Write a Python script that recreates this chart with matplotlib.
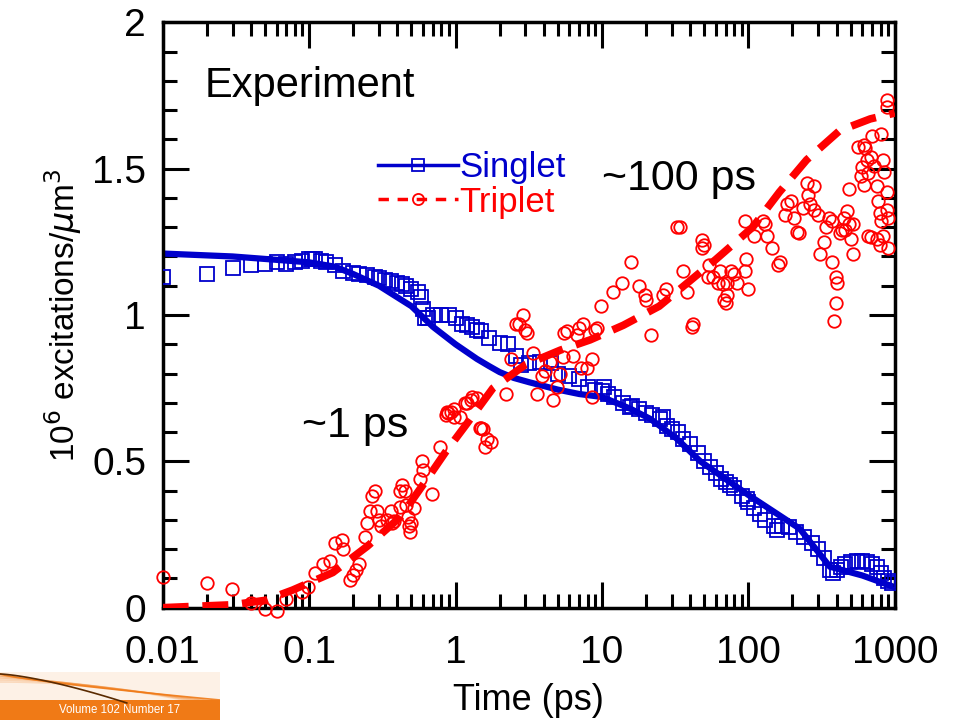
import numpy as np
import matplotlib.pyplot as plt
from matplotlib.lines import Line2D
from matplotlib.patches import Rectangle
from matplotlib.ticker import FixedLocator, NullFormatter, MultipleLocator

plt.rcParams['font.family'] = ['Liberation Sans', 'DejaVu Sans']

# ----- fitted curves -----
singlet_fit_t = [0.01, 0.03, 0.1, 0.15, 0.2, 0.3, 0.5, 0.7, 1.0, 1.4, 1.7, 2.0, 2.5, 3.2, 5.0, 7.0, 10, 15.6, 21.4, 32, 47, 100, 224, 360, 600, 1000]
singlet_fit_n = [1.21, 1.20, 1.18, 1.165, 1.14, 1.10, 1.03, 0.96, 0.90, 0.85, 0.825, 0.805, 0.785, 0.77, 0.745, 0.73, 0.72, 0.68, 0.645, 0.58, 0.50, 0.385, 0.27, 0.14, 0.11, 0.07]

triplet_fit_t = [0.01, 0.03, 0.05, 0.077, 0.145, 0.25, 0.42, 0.64, 0.85, 1.2, 1.8, 3.0, 5.2, 8.3, 14, 24.6, 60, 107, 163, 250, 420, 680, 1000]
triplet_fit_n = [0.0, 0.01, 0.025, 0.06, 0.12, 0.21, 0.31, 0.44, 0.53, 0.63, 0.75, 0.83, 0.88, 0.915, 0.965, 1.03, 1.19, 1.30, 1.42, 1.53, 1.63, 1.67, 1.69]

# ----- measured points -----
singlet_t = [0.01, 0.02, 0.03, 0.04, 0.05, 0.06, 0.07, 0.08, 0.09, 0.1, 0.105, 0.11, 0.12, 0.13,
             0.15, 0.17, 0.2, 0.22, 0.25, 0.28, 0.3, 0.33, 0.36, 0.4, 0.43, 0.46, 0.5, 0.55, 0.58,
             0.6, 0.62, 0.65, 0.7, 0.8, 0.9, 1.0, 1.1, 1.2, 1.3, 1.4, 1.5, 1.7, 2.0, 2.3, 2.6, 2.8,
             3.2, 3.8, 4.5, 5.0, 6.0, 7.0, 8.0, 9.0, 10, 10.3, 11, 12, 14, 15.6, 16, 18, 20, 22, 25,
             26, 28, 30, 33, 36, 40, 45, 50, 55, 60, 65, 70, 75, 80, 90, 98, 100, 110, 120, 130,
             150, 157, 170, 190, 210, 240, 270, 300, 330, 360, 380, 400, 430, 460, 500, 550, 600,
             650, 700, 750, 800, 850, 900, 950]
singlet_n = [1.13, 1.14, 1.16, 1.17, 1.175, 1.18, 1.175, 1.18, 1.185, 1.19, 1.19, 1.19, 1.185, 1.18,
             1.17, 1.15, 1.145, 1.14, 1.135, 1.13, 1.125, 1.12, 1.115, 1.11, 1.105, 1.10, 1.09, 1.08, 1.06,
             1.02, 0.99, 0.99, 1.0, 1.0, 1.0, 0.99, 0.97, 0.965, 0.96, 0.95, 0.945, 0.92, 0.905, 0.90, 0.86, 0.83,
             0.835, 0.84, 0.835, 0.80, 0.79, 0.78, 0.755, 0.745, 0.74, 0.755, 0.73, 0.72, 0.70, 0.685, 0.69, 0.68, 0.665, 0.66, 0.645,
             0.65, 0.62, 0.61, 0.60, 0.575, 0.56, 0.53, 0.50, 0.48, 0.46, 0.44, 0.43, 0.42, 0.41, 0.38, 0.37, 0.36, 0.34, 0.32, 0.30,
             0.28, 0.265, 0.28, 0.275, 0.26, 0.24, 0.22, 0.20, 0.17, 0.13, 0.12, 0.13, 0.14, 0.15, 0.155, 0.16, 0.16,
             0.155, 0.15, 0.14, 0.12, 0.10, 0.09, 0.085]

triplet_t = [0.01, 0.02, 0.0296, 0.04, 0.0497, 0.06, 0.07, 0.09, 0.098, 0.109, 0.124, 0.138, 0.15, 0.167,
             0.17, 0.19, 0.2, 0.21, 0.22, 0.24, 0.25, 0.26, 0.27, 0.28, 0.29, 0.30, 0.31, 0.34, 0.36,
             0.37, 0.38, 0.415, 0.42, 0.43, 0.45, 0.46, 0.47, 0.48, 0.49, 0.5, 0.52, 0.57, 0.59, 0.6,
             0.69, 0.78, 0.86, 0.87, 0.89, 0.93, 0.97, 0.98, 1.07, 1.16, 1.2, 1.27, 1.3, 1.4, 1.46,
             1.5, 1.54, 1.6, 1.65, 1.75, 2.2, 2.4, 2.6, 2.7, 2.9, 3.0, 3.1, 3.4, 3.6, 3.9, 4.1, 4.4,
             4.6, 4.9, 5.2, 5.4, 5.5, 5.8, 6.3, 6.8, 7.0, 7.2, 7.4, 7.9, 8.5, 8.6, 8.9, 9.2, 9.9,
             11.9, 13.7, 15.8, 17.9, 19.8, 20, 21.6, 26, 27.5, 32.7, 34, 36, 38, 41, 42, 48, 48.6,
             50, 53, 54, 57, 62, 64, 67, 68, 70, 72, 72, 76, 80, 84, 95, 95, 97, 100, 110, 125,
             130, 133, 146, 160, 165, 178, 185, 195, 205, 215, 220, 235, 250, 255, 265, 280, 280,
             300, 310, 330, 340, 355, 375, 375, 385, 395, 395, 405, 420, 435, 450, 460, 475, 485,
             485, 505, 520, 520, 560, 590, 600, 615, 615, 630, 645, 660, 660, 690, 690, 700, 720,
             750, 750, 770, 790, 790, 810, 810, 830, 830, 850, 880, 880, 880, 890, 900, 900]
triplet_n = [0.105, 0.085, 0.065, 0.015, -0.005, -0.01, 0.03, 0.055, 0.07, 0.12, 0.15, 0.16, 0.22, 0.23,
             0.20, 0.095, 0.11, 0.13, 0.15, 0.24, 0.29, 0.33, 0.38, 0.40, 0.33, 0.30, 0.28, 0.30, 0.33,
             0.29, 0.295, 0.345, 0.40, 0.42, 0.40, 0.35, 0.31, 0.28, 0.26, 0.29, 0.34, 0.44, 0.50, 0.47,
             0.39, 0.55, 0.66, 0.67, 0.665, 0.67, 0.65, 0.68, 0.65, 0.70, 0.70, 0.71, 0.72, 0.715, 0.615,
             0.615, 0.61, 0.55, 0.575, 0.565, 0.73, 0.85, 0.97, 0.97, 1.0, 0.95, 0.94, 0.87, 0.73, 0.79, 0.81, 0.84,
             0.71, 0.755, 0.80, 0.855, 0.94, 0.945, 0.86, 0.93, 0.955, 0.82, 0.97, 0.82, 0.72, 0.85, 0.95, 0.955, 1.03,
             1.08, 1.11, 1.18, 1.10, 1.07, 1.05, 0.93, 1.07, 1.09, 1.30, 1.30, 1.15, 1.08, 0.96, 0.97, 1.23, 1.255,
             1.24, 1.13, 1.17, 1.13, 1.11, 1.15, 1.105, 1.05, 1.04, 1.11, 1.07, 1.15, 1.14, 1.11, 1.15, 1.32, 1.19, 1.09, 1.27, 1.32,
             1.31, 1.27, 1.23, 1.17, 1.18, 1.34, 1.38, 1.39, 1.33, 1.285, 1.28, 1.365, 1.45, 1.41, 1.38, 1.44, 1.36,
             1.34, 1.21, 1.25, 1.30, 1.33, 1.18, 1.32, 0.98, 1.13, 1.04, 1.11, 1.28, 1.29, 1.33, 1.29, 1.355, 1.43,
             1.31, 1.26, 1.31, 1.21, 1.575, 1.475, 1.505, 1.58, 1.445, 1.57, 1.53, 1.485, 1.27, 1.54, 1.265, 1.61, 1.51,
             1.44, 1.26, 1.39, 1.35, 1.24, 1.32, 1.62, 1.27, 1.53, 1.49, 1.735, 1.71, 1.42, 1.36, 1.33, 1.23]

blue = '#0000CC'
red = '#FF0000'
orange = '#F07A16'

fig = plt.figure(figsize=(9.57, 7.2), dpi=100)
ax = fig.add_axes([0.170, 0.156, 0.765, 0.813])

ax.plot(singlet_t, singlet_n, 's', mfc='none', mec=blue, ms=10, mew=1.3, zorder=3)
ax.plot(singlet_fit_t, singlet_fit_n, '-', color=blue, lw=4.5, zorder=2)
ax.plot(triplet_t, triplet_n, 'o', mfc='none', mec=red, ms=9, mew=1.3, zorder=3, clip_on=False)
ax.plot(triplet_fit_t, triplet_fit_n, '-', color=red, lw=5.5, dashes=(3.4, 1.8), zorder=4)

ax.set_xscale('log')
ax.set_xlim(0.01, 1000)
ax.set_ylim(0, 2)
ax.set_xticks([0.01, 0.1, 1, 10, 100, 1000])
ax.set_xticklabels(['0.01', '0.1', '1', '10', '100', '1000'])
minors = [m * 10.0 ** e for e in range(-2, 3) for m in range(2, 10)]
ax.xaxis.set_minor_locator(FixedLocator(minors))
ax.xaxis.set_minor_formatter(NullFormatter())
ax.set_yticks([0, 0.5, 1, 1.5, 2])
ax.set_yticklabels(['0', '0.5', '1', '1.5', '2'])
ax.yaxis.set_minor_locator(MultipleLocator(0.1))

ax.tick_params(which='both', direction='in', top=True, right=True, width=2.2, labelsize=28)
ax.tick_params(axis='x', pad=20)
ax.tick_params(axis='y', pad=12)
ax.tick_params(which='major', length=19)
ax.tick_params(which='minor', length=10)
for s in ax.spines.values():
    s.set_linewidth(2.5)

ax.set_xlabel('Time (ps)', fontsize=26, labelpad=8)
ax.set_ylabel(r'10$^6$ excitations/$\mu$m$^3$', fontsize=24, labelpad=6)

ax.text(0.057, 0.872, 'Experiment', transform=ax.transAxes, fontsize=30)
ax.text(0.60, 0.713, '~100 ps', transform=ax.transAxes, fontsize=31)
ax.text(0.19, 0.292, '~1 ps', transform=ax.transAxes, fontsize=31)

handles = [Line2D([], [], color=blue, lw=2.5, marker='s', mfc='none', mec=blue, ms=8, mew=1.3),
           Line2D([], [], color=red, lw=2.5, dashes=(3, 2.5), marker='o', mfc='none', mec=red, ms=8, mew=1.3)]
leg = ax.legend(handles, ['Singlet', 'Triplet'], loc='upper left', bbox_to_anchor=(0.27, 0.81),
                frameon=False, fontsize=25, handlelength=2.3, handletextpad=0.05,
                labelspacing=0.05, borderpad=0)
leg.get_texts()[0].set_color(blue)
leg.get_texts()[1].set_color(red)

# journal logo strip, bottom left
logo = fig.add_axes([0, 0, 220 / 957, 48 / 720])
logo.set_xlim(0, 220)
logo.set_ylim(0, 48)
logo.axis('off')
logo.add_patch(Rectangle((0, 0), 220, 20, color=orange, lw=0))
logo.add_patch(Rectangle((0, 20), 220, 28, color='#FDF1E6', lw=0))
sx = np.linspace(0, 220, 60)
for k, a in enumerate([0.9, 0.5, 0.35, 0.25, 0.2]):
    logo.plot(sx, 46 - 26 * (sx / 220) ** (0.8 + 0.3 * k) - 2 * k, color=orange, lw=1.2, alpha=a)
logo.plot(sx[:35], 46 - 30 * (sx[:35] / 130) ** 1.4, color='#5A2A00', lw=1.2)
logo.text(120, 10, 'Volume 102 Number 17', color='white', fontsize=8.3, ha='center', va='center')

fig.savefig('out.png', dpi=100)
